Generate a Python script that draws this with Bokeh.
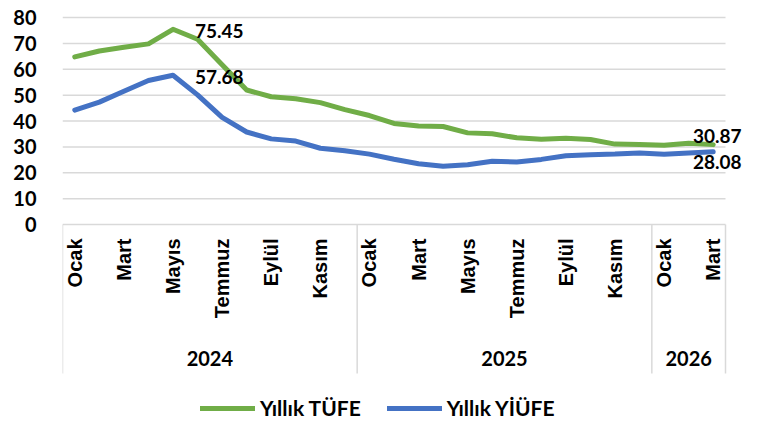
import math
from bokeh.plotting import figure
from bokeh.models import Range1d, FixedTicker, Legend, LegendItem, ColumnDataSource
from bokeh.core.properties import value
from bokeh.embed import file_html
from bokeh.resources import INLINE

# ---- data ----
month_names = ["Ocak", "Şubat", "Mart", "Nisan", "Mayıs", "Haziran",
               "Temmuz", "Ağustos", "Eylül", "Ekim", "Kasım", "Aralık"]
years = ["2024", "2025", "2026"]
months_per_year = [12, 12, 3]
tufe = [64.77, 67.07, 68.50, 69.80, 75.45, 71.60, 61.78, 51.97, 49.38, 48.58, 47.09, 44.38,
        42.12, 39.05, 38.10, 37.86, 35.41, 35.05, 33.52, 32.95, 33.29, 32.87, 31.07, 30.89,
        30.65, 31.40, 30.87]
yiufe = [44.22, 47.29, 51.47, 55.66, 57.68, 50.09, 41.37, 35.75, 33.09, 32.24, 29.47, 28.52,
         27.20, 25.21, 23.50, 22.50, 23.13, 24.45, 24.19, 25.16, 26.59, 27.00, 27.23, 27.67,
         27.17, 27.60, 28.08]
y_ticks = [0, 10, 20, 30, 40, 50, 60, 70, 80]
series_names = ["Yıllık TÜFE", "Yıllık YİÜFE"]
colors = ["#70AD47", "#4472C4"]

# ---- derived ----
labels = []
for y, n in zip(years, months_per_year):
    labels += month_names[:n]
n_pts = len(labels)
xs = list(range(n_pts))
shown_labels = [lab if i % 2 == 0 else "" for i, lab in enumerate(labels)]

# layout constants (pixels)
W, H = 758, 425
LEFT = 62
CAT_PX = 663 / n_pts     # pixels per category
PX = 207 / 80.0          # pixels per y unit
TOP_PAD = 17             # px above the 80 gridline
y_top = 80 + TOP_PAD / PX
y_bot = 80 - (H - TOP_PAD) / PX
x_end = -0.5 + (W - LEFT) / CAT_PX

p = figure(width=W, height=H, output_backend="svg", toolbar_location=None,
           x_range=Range1d(-0.5, x_end), y_range=Range1d(y_bot, y_top),
           x_axis_location=None, min_border_left=LEFT, min_border_right=0,
           min_border_top=0, min_border_bottom=0)
p.outline_line_color = None
p.background_fill_color = "white"
p.border_fill_color = "white"
p.xgrid.visible = False
p.ygrid.visible = False

yax = p.yaxis[0]
yax.ticker = FixedTicker(ticks=y_ticks)
yax.axis_line_color = None
yax.major_tick_line_color = None
yax.minor_tick_line_color = None
yax.major_label_text_font = "Lato"
yax.major_label_text_font_style = "bold"
yax.major_label_text_font_size = "20px"
yax.major_label_text_color = "black"
yax.major_label_standoff = 20

# horizontal gridlines (over the category span only)
p.segment(x0=[-0.5] * len(y_ticks), y0=y_ticks, x1=[n_pts - 0.5] * len(y_ticks), y1=y_ticks,
          line_color="#D9D9D9", line_width=1.5)

# category separators
bounds = [-0.5]
acc = -0.5
for n in months_per_year:
    acc += n
    bounds.append(acc)
sep_len = 149 / PX
p.segment(x0=bounds, y0=[0] * len(bounds), x1=bounds, y1=[-sep_len] * len(bounds),
          line_color="#D9D9D9", line_width=1.5)

# month labels (rotated)
p.text(x=xs, y=[0] * n_pts, text=shown_labels, angle=math.pi / 2,
       text_align="right", text_baseline="middle", y_offset=14,
       text_font=value("Liberation Sans"), text_font_style="bold",
       text_font_size="20px", text_color="black")

# year labels
centers = [(bounds[i] + bounds[i + 1]) / 2 for i in range(len(years))]
p.text(x=centers, y=[0] * len(years), text=years, text_align="center",
       text_baseline="middle", y_offset=134, text_font=value("Lato"),
       text_font_style="bold", text_font_size="20px", text_color="black")

# lines
r1 = p.line(xs, tufe, line_width=5, line_color=colors[0], line_join="round", line_cap="round")
r2 = p.line(xs, yiufe, line_width=5, line_color=colors[1], line_join="round", line_cap="round")

# data labels
imax_t = tufe.index(max(tufe))
imax_y = yiufe.index(max(yiufe))
last = n_pts - 1
lab_style = dict(text_font=value("Lato"), text_font_style="bold",
                 text_font_size="19px", text_color="black", text_baseline="middle")
p.text(x=[imax_t, imax_y], y=[tufe[imax_t], yiufe[imax_y]],
       text=[f"{tufe[imax_t]:.2f}", f"{yiufe[imax_y]:.2f}"],
       text_align="left", x_offset=22, y_offset=2, **lab_style)
p.text(x=[last, last], y=[tufe[last], yiufe[last]],
       text=[f"{tufe[last]:.2f}", f"{yiufe[last]:.2f}"],
       text_align="center", x_offset=4, y_offset=[-9, 10], **lab_style)

legend = Legend(items=[LegendItem(label=series_names[0], renderers=[r1]),
                       LegendItem(label=series_names[1], renderers=[r2])],
                orientation="horizontal", location=(138, 5))
legend.glyph_width = 55
legend.glyph_height = 16
legend.label_height = 16
legend.label_standoff = 5
legend.spacing = 26
legend.padding = 0
legend.margin = 0
legend.border_line_color = None
legend.background_fill_alpha = 0
legend.label_text_font = "Lato"
legend.label_text_font_style = "bold"
legend.label_text_font_size = "21px"
legend.label_text_color = "black"
p.add_layout(legend)

open("out.html", "w").write(file_html(p, INLINE))
